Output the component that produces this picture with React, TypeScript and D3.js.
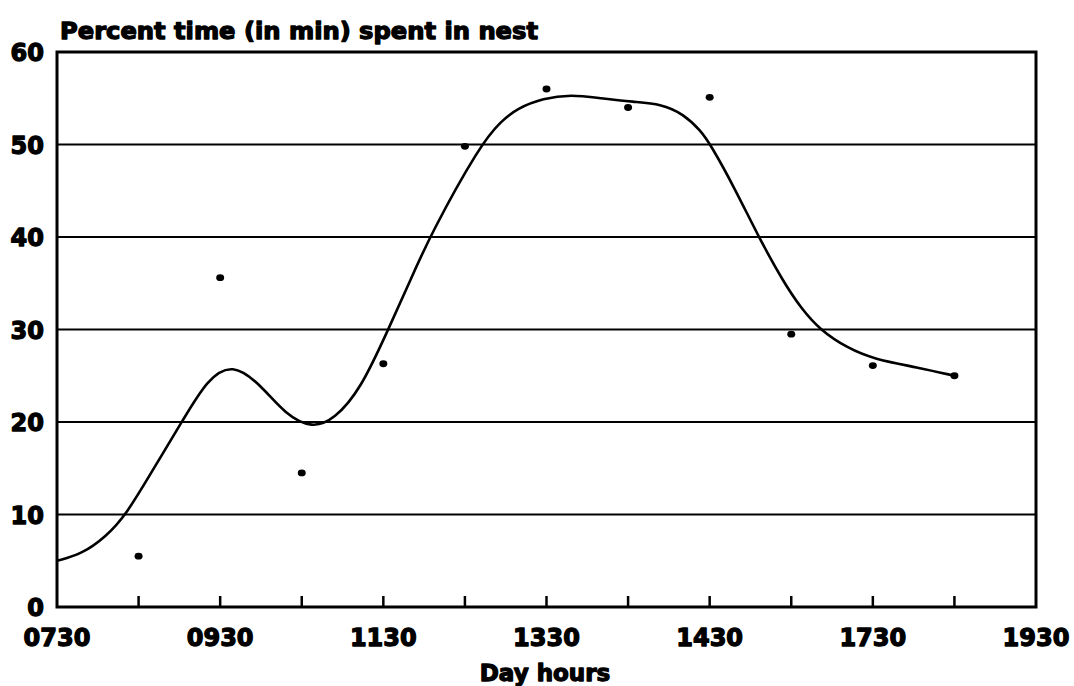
import * as d3 from 'd3';
import { useEffect, useRef } from 'react';

// observed points (hour of day as decimal, percent)
const pointHours = [8.5, 9.5, 10.5, 11.5, 12.5, 13.5, 14.5, 15.5, 16.5, 17.5, 18.5];
const pointValues = [5.5, 35.6, 14.5, 26.3, 49.8, 56, 54, 55.1, 29.5, 26.1, 25];

// fitted curve
const curveHours = [7.5, 7.8, 8.1, 8.35, 8.68, 9.05, 9.34, 9.65, 10.0, 10.3, 10.63, 10.9, 11.22, 11.56, 11.83, 12.08, 12.69, 12.94, 13.14, 13.46, 13.8, 14.16, 14.57, 14.9, 15.18, 15.39, 15.51, 15.8, 16.1, 16.4, 16.62, 16.86, 17.19, 17.51, 18.05, 18.5];
const curveValues = [5.0, 5.7, 7.6, 10, 14.9, 20.3, 24.6, 26.4, 24.0, 20.8, 19.3, 20.3, 23.5, 30, 35.3, 40.3, 50, 52.5, 53.9, 55.0, 55.4, 55.0, 54.6, 54.4, 53.3, 51.5, 50, 45.4, 40, 35.2, 32.3, 29.9, 28.0, 26.8, 25.9, 25.0];

const yTicks = [0, 10, 20, 30, 40, 50, 60];
const xTickHours = [8.5, 9.5, 10.5, 11.5, 12.5, 13.5, 14.5, 15.5, 16.5, 17.5, 18.5];
const xLabelHours = [7.5, 9.5, 11.5, 13.5, 15.5, 17.5, 19.5];
const xLabels = ['0730', '0930', '1130', '1330', '1430', '1730', '1930'];

const title = 'Percent time (in min) spent in nest';
const xTitle = 'Day hours';

export default function App() {
  const svgRef = useRef<SVGSVGElement | null>(null);
  const width = 1074;
  const height = 686;

  useEffect(() => {
    const svg = d3.select(svgRef.current);
    svg.selectAll('*').remove();

    const x = d3.scaleLinear().domain([7.5, 19.5]).range([57, 1036]);
    const y = d3.scaleLinear().domain([0, 60]).range([607, 52]);
    const font = '"DejaVu Sans", "Liberation Sans", Arial, sans-serif';

    svg.append('rect').attr('width', width).attr('height', height).attr('fill', '#fff');

    // grid lines
    svg.append('g')
      .selectAll('line')
      .data(yTicks.filter(v => v > 0 && v < 60))
      .enter()
      .append('line')
      .attr('x1', x(7.5))
      .attr('x2', x(19.5))
      .attr('y1', d => y(d))
      .attr('y2', d => y(d))
      .attr('stroke', '#000')
      .attr('stroke-width', 2);

    // frame
    svg.append('rect')
      .attr('x', x(7.5))
      .attr('y', y(60))
      .attr('width', x(19.5) - x(7.5))
      .attr('height', y(0) - y(60))
      .attr('fill', 'none')
      .attr('stroke', '#000')
      .attr('stroke-width', 3);

    // bottom ticks
    svg.append('g')
      .selectAll('line')
      .data(xTickHours)
      .enter()
      .append('line')
      .attr('x1', d => x(d))
      .attr('x2', d => x(d))
      .attr('y1', y(0))
      .attr('y2', y(0) - 11)
      .attr('stroke', '#000')
      .attr('stroke-width', 2.5);

    // curve
    const line = d3.line<number>()
      .x((_, i) => x(curveHours[i]))
      .y(d => y(d))
      .curve(d3.curveBasis);

    svg.append('path')
      .datum(curveValues)
      .attr('d', line)
      .attr('fill', 'none')
      .attr('stroke', '#000')
      .attr('stroke-width', 2.6);

    // points
    svg.append('g')
      .selectAll('ellipse')
      .data(pointValues)
      .enter()
      .append('ellipse')
      .attr('cx', (_, i) => x(pointHours[i]))
      .attr('cy', d => y(d))
      .attr('rx', 4)
      .attr('ry', 3.4)
      .attr('fill', '#000');

    const heavy = (sel: d3.Selection<SVGTextElement, any, any, any>, size: number) =>
      sel.attr('font-family', font)
        .attr('font-weight', 'bold')
        .attr('font-size', size)
        .attr('stroke', '#000')
        .attr('stroke-width', 1.3)
        .attr('stroke-linejoin', 'round');

    // y labels
    heavy(svg.append('g')
      .selectAll<SVGTextElement, number>('text')
      .data(yTicks)
      .enter()
      .append('text')
      .attr('x', 44)
      .attr('y', d => y(d) + 9)
      .attr('text-anchor', 'end')
      .text(d => d), 24);

    // x labels
    heavy(svg.append('g')
      .selectAll<SVGTextElement, string>('text')
      .data(xLabels)
      .enter()
      .append('text')
      .attr('x', (_, i) => x(xLabelHours[i]))
      .attr('y', 646)
      .attr('text-anchor', 'middle')
      .text(d => d), 24);

    heavy(svg.append('text')
      .attr('x', 545)
      .attr('y', 681)
      .attr('text-anchor', 'middle')
      .text(xTitle), 23);

    heavy(svg.append('text')
      .attr('x', 60)
      .attr('y', 39)
      .attr('textLength', 478)
      .attr('lengthAdjust', 'spacingAndGlyphs')
      .text(title), 23);
  }, []);

  return (
    <svg
      ref={svgRef}
      width={width}
      height={height}
      style={{ position: 'absolute', left: 0, top: 0 }}
    />
  );
}
